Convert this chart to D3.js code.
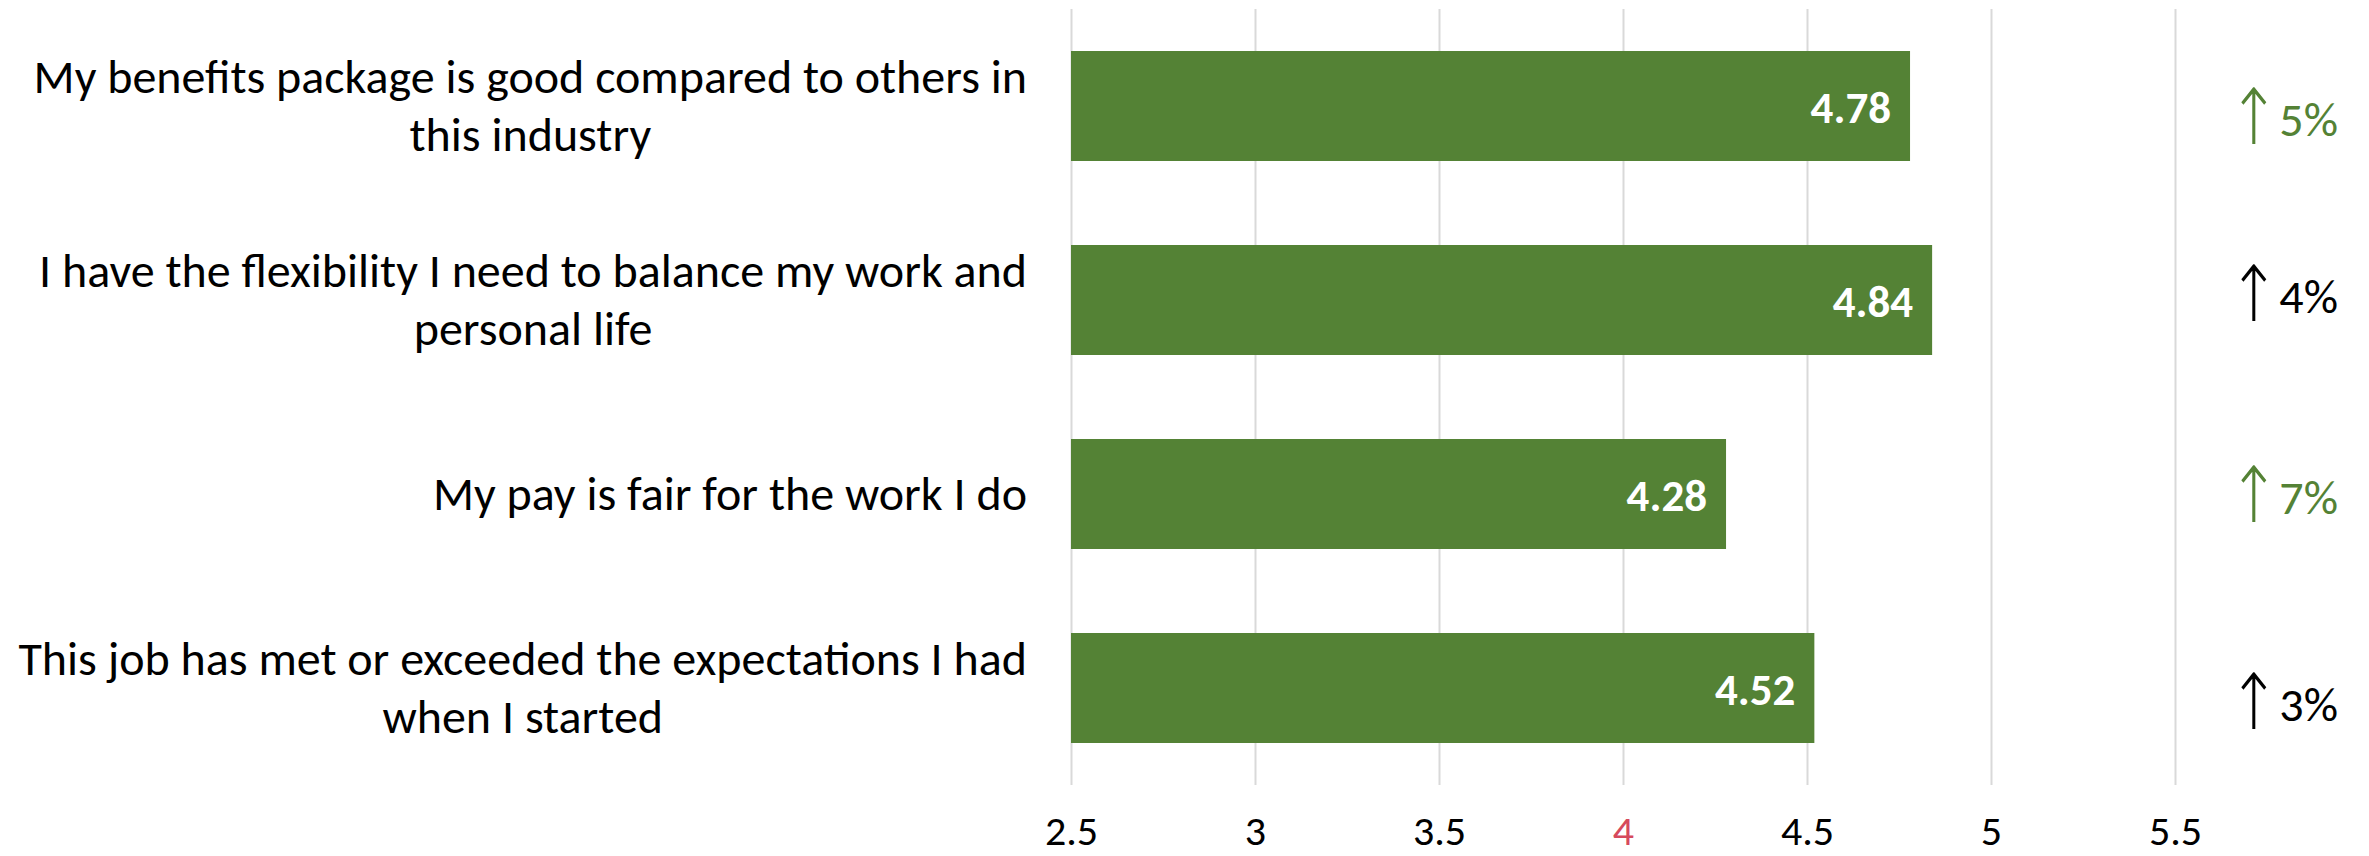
<!DOCTYPE html>
<html>
<head>
<meta charset="utf-8">
<script src="https://cdn.jsdelivr.net/npm/d3@7/dist/d3.min.js"></script>
<style>
  html, body { margin: 0; padding: 0; background: #ffffff; }
  svg { display: block; }
</style>
</head>
<body>
<svg id="chart" width="2369" height="856"></svg>
<script>
// ---- data ----
const categories = [
  "My benefits package is good compared to others in\nthis industry",
  "I have the flexibility I need to balance my work and\npersonal life",
  "My pay is fair for the work I do",
  "This job has met or exceeded the expectations I had\nwhen I started"
];
const scores = [4.78, 4.84, 4.28, 4.52];
const changes = [5, 4, 7, 3];              // percent increase
const changeHighlighted = [true, false, true, false];
const tickValues = [2.5, 3, 3.5, 4, 4.5, 5, 5.5];
const highlightedTick = 4;

// ---- layout / style ----
const W = 2369, H = 856;
const plot = { left: 1071, right: 2175, top: 9, bottom: 785 };
const FONT = "Carlito, Calibri, Lato, Roboto, sans-serif";
const GREEN = "#548235";
const RED = "#D6495D";
const GRID = "#d9d9d9";
const pctDy = [13, -4, 3, 16];

const svg = d3.select("#chart");

const x = d3.scaleLinear().domain([2.5, 5.5]).range([plot.left, plot.right]);
const y = d3.scaleBand()
  .domain(categories)
  .range([plot.top, plot.bottom])
  .paddingInner(0.433)
  .paddingOuter(0.2165);

// gridlines
const grid = svg.append("g")
  .attr("transform", `translate(0,${plot.bottom})`)
  .call(d3.axisBottom(x).tickValues(tickValues).tickSize(-(plot.bottom - plot.top)).tickFormat(""));
grid.select(".domain").remove();
grid.selectAll(".tick line").attr("stroke", GRID).attr("stroke-width", 2);

// tick labels
const ax = svg.append("g")
  .attr("transform", `translate(0,${plot.bottom})`)
  .call(d3.axisBottom(x).tickValues(tickValues).tickSize(0).tickFormat(d3.format("")));
ax.select(".domain").remove();
ax.selectAll(".tick text")
  .attr("y", 845 - plot.bottom)
  .attr("dy", null)
  .attr("font-family", FONT)
  .attr("font-size", 42)
  .attr("fill", d => d === highlightedTick ? RED : "#000");

// bars
svg.append("g").selectAll("rect")
  .data(scores)
  .join("rect")
  .attr("x", x(2.5))
  .attr("y", (d, i) => y(categories[i]))
  .attr("width", d => x(d) - x(2.5))
  .attr("height", y.bandwidth())
  .attr("fill", GREEN);

// value labels
svg.append("g").selectAll("text")
  .data(scores)
  .join("text")
  .attr("x", d => x(d) - 19)
  .attr("y", (d, i) => y(categories[i]) + y.bandwidth() / 2 + 17)
  .attr("text-anchor", "end")
  .attr("font-family", FONT)
  .attr("font-weight", "bold")
  .attr("font-size", 45)
  .attr("fill", "#ffffff")
  .text(d => d.toFixed(2));

// category labels (multi-line, centred block, right-aligned to axis)
const gap = 44, lineH = 58, capHalf = 15.5;
categories.forEach((c, i) => {
  const lines = c.split("\n");
  const g = svg.append("g");
  const texts = g.selectAll("text").data(lines).join("text")
    .attr("font-family", FONT)
    .attr("font-size", 48)
    .attr("fill", "#000")
    .attr("text-anchor", "middle")
    .text(d => d);
  let maxW = 0;
  texts.each(function () { maxW = Math.max(maxW, this.getComputedTextLength()); });
  const cx = plot.left - gap - maxW / 2;
  const cy = y(c) + y.bandwidth() / 2;
  const n = lines.length;
  texts.attr("x", cx)
    .attr("y", (d, j) => cy + capHalf + (j - (n - 1) / 2) * lineH);
});

// change indicators
const chg = svg.append("g").selectAll("g")
  .data(changes)
  .join("g")
  .attr("transform", (d, i) => `translate(0,${y(categories[i]) + y.bandwidth() / 2 + pctDy[i]})`);
chg.append("g")
  .attr("transform", "translate(2254,0) scale(1,1.25)")
  .append("text")
  .attr("x", 0)
  .attr("y", 20)
  .attr("text-anchor", "middle")
  .attr("font-family", "'DejaVu Sans', sans-serif")
  .attr("font-weight", 200)
  .attr("font-size", 62)
  .attr("fill", (d, i) => changeHighlighted[i] ? GREEN : "#000")
  .text("\u2191");
chg.append("text")
  .attr("x", 2338)
  .attr("y", 17)
  .attr("text-anchor", "end")
  .attr("font-family", FONT)
  .attr("font-size", 48)
  .attr("fill", (d, i) => changeHighlighted[i] ? GREEN : "#000")
  .text(d => d + "%");
</script>
</body>
</html>
